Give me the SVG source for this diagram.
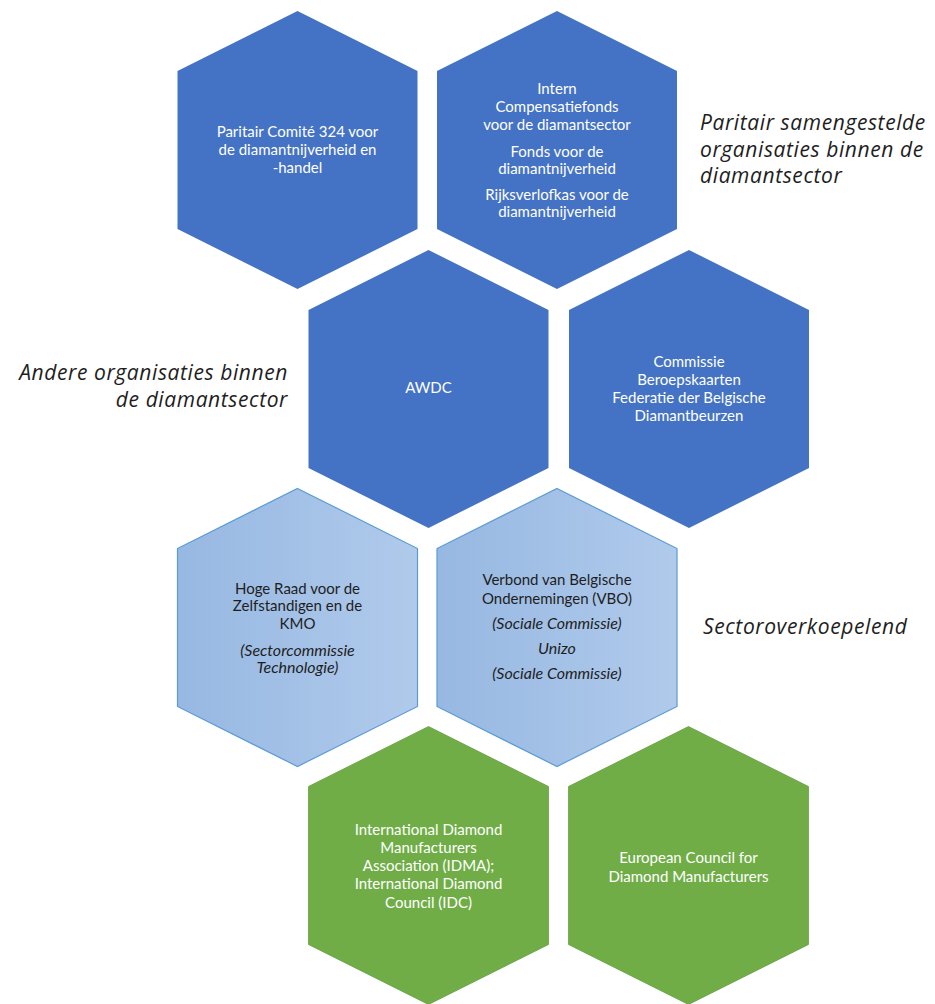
<svg xmlns="http://www.w3.org/2000/svg" xmlns:xlink="http://www.w3.org/1999/xlink" width="935" height="1004" viewBox="0 0 935 1004">
<defs>
<style>
.dark{fill:#4472C4;}
.light{fill:url(#lg);stroke:#5B9BD5;stroke-width:1.2;}
.green{fill:#70AD47;stroke:#6A9F45;stroke-width:0.8;}
.t{font-family:Lato,"Open Sans","Liberation Sans",sans-serif;font-size:15px;text-anchor:middle;}
.w{fill:#FFFFFF;}
.k{fill:#1E1E1E;}
.i{font-style:italic;font-size:16px;}
.side{font-family:"Open Sans",Lato,"Liberation Sans",sans-serif;font-size:21px;letter-spacing:0.6px;font-style:italic;fill:#1E1E1E;}
</style>
<linearGradient id="lg" x1="0" y1="0" x2="1" y2="0">
<stop offset="0" stop-color="#97B8E2"/>
<stop offset="1" stop-color="#B0CAEB"/>
</linearGradient>
<path id="hex" d="M0,-139 L120,-79 L120,79 L0,139 L-120,79 L-120,-79 Z"/>
</defs>
<rect width="935" height="1004" fill="#FFFFFF"/>

<g id="connectors"></g>

<g id="node-pc324">
<use xlink:href="#hex" href="#hex" class="dark" transform="translate(297.5,150)"/>
<text class="t w" x="297.5" y="137">Paritair Comité 324 voor</text>
<text class="t w" x="297.5" y="155">de diamantnijverheid en</text>
<text class="t w" x="297.5" y="173">-handel</text>
</g>

<g id="node-fondsen">
<use xlink:href="#hex" href="#hex" class="dark" transform="translate(557,150)"/>
<text class="t w" x="557" y="94">Intern</text>
<text class="t w" x="557" y="112">Compensatiefonds</text>
<text class="t w" x="557" y="129.5">voor de diamantsector</text>
<text class="t w" x="557" y="156.5">Fonds voor de</text>
<text class="t w" x="557" y="173.5">diamantnijverheid</text>
<text class="t w" x="557" y="200">Rijksverlofkas voor de</text>
<text class="t w" x="557" y="217">diamantnijverheid</text>
</g>

<g id="node-awdc">
<use xlink:href="#hex" href="#hex" class="dark" transform="translate(428.5,389)"/>
<text class="t w" x="428.5" y="393">AWDC</text>
</g>

<g id="node-commissie">
<use xlink:href="#hex" href="#hex" class="dark" transform="translate(689,389)"/>
<text class="t w" x="689" y="367">Commissie</text>
<text class="t w" x="689" y="385">Beroepskaarten</text>
<text class="t w" x="689" y="402.5">Federatie der Belgische</text>
<text class="t w" x="689" y="420.5">Diamantbeurzen</text>
</g>

<g id="node-hogeraad">
<use xlink:href="#hex" href="#hex" class="light" transform="translate(297.5,627.5)"/>
<text class="t k" x="297.5" y="593.5">Hoge Raad voor de</text>
<text class="t k" x="297.5" y="611">Zelfstandigen en de</text>
<text class="t k" x="297.5" y="628.5">KMO</text>
<text class="t k i" x="297.5" y="655.5">(Sectorcommissie</text>
<text class="t k i" x="297.5" y="673">Technologie)</text>
</g>

<g id="node-vbo">
<use xlink:href="#hex" href="#hex" class="light" transform="translate(557,627.5)"/>
<text class="t k" x="557" y="585">Verbond van Belgische</text>
<text class="t k" x="557" y="603.5">Ondernemingen (VBO)</text>
<text class="t k i" x="557" y="628.5">(Sociale Commissie)</text>
<text class="t k i" x="557" y="653.5">Unizo</text>
<text class="t k i" x="557" y="678.5">(Sociale Commissie)</text>
</g>

<g id="node-idma">
<use xlink:href="#hex" href="#hex" class="green" transform="translate(428.5,865.5)"/>
<text class="t w" x="428.5" y="835">International Diamond</text>
<text class="t w" x="428.5" y="853">Manufacturers</text>
<text class="t w" x="428.5" y="871">Association (IDMA);</text>
<text class="t w" x="428.5" y="889">International Diamond</text>
<text class="t w" x="428.5" y="907.5">Council (IDC)</text>
</g>

<g id="node-ecdm">
<use xlink:href="#hex" href="#hex" class="green" transform="translate(688.5,865.5)"/>
<text class="t w" x="688.5" y="862.5">European Council for</text>
<text class="t w" x="688.5" y="881.5">Diamond Manufacturers</text>
</g>

<g id="labels">
<text class="side" x="700" y="130">Paritair samengestelde</text>
<text class="side" x="700" y="157">organisaties binnen de</text>
<text class="side" x="700" y="183">diamantsector</text>
<text class="side" x="288" y="380" text-anchor="end">Andere organisaties binnen</text>
<text class="side" x="288" y="407" text-anchor="end">de diamantsector</text>
<text class="side" x="703" y="634">Sectoroverkoepelend</text>
</g>
</svg>
